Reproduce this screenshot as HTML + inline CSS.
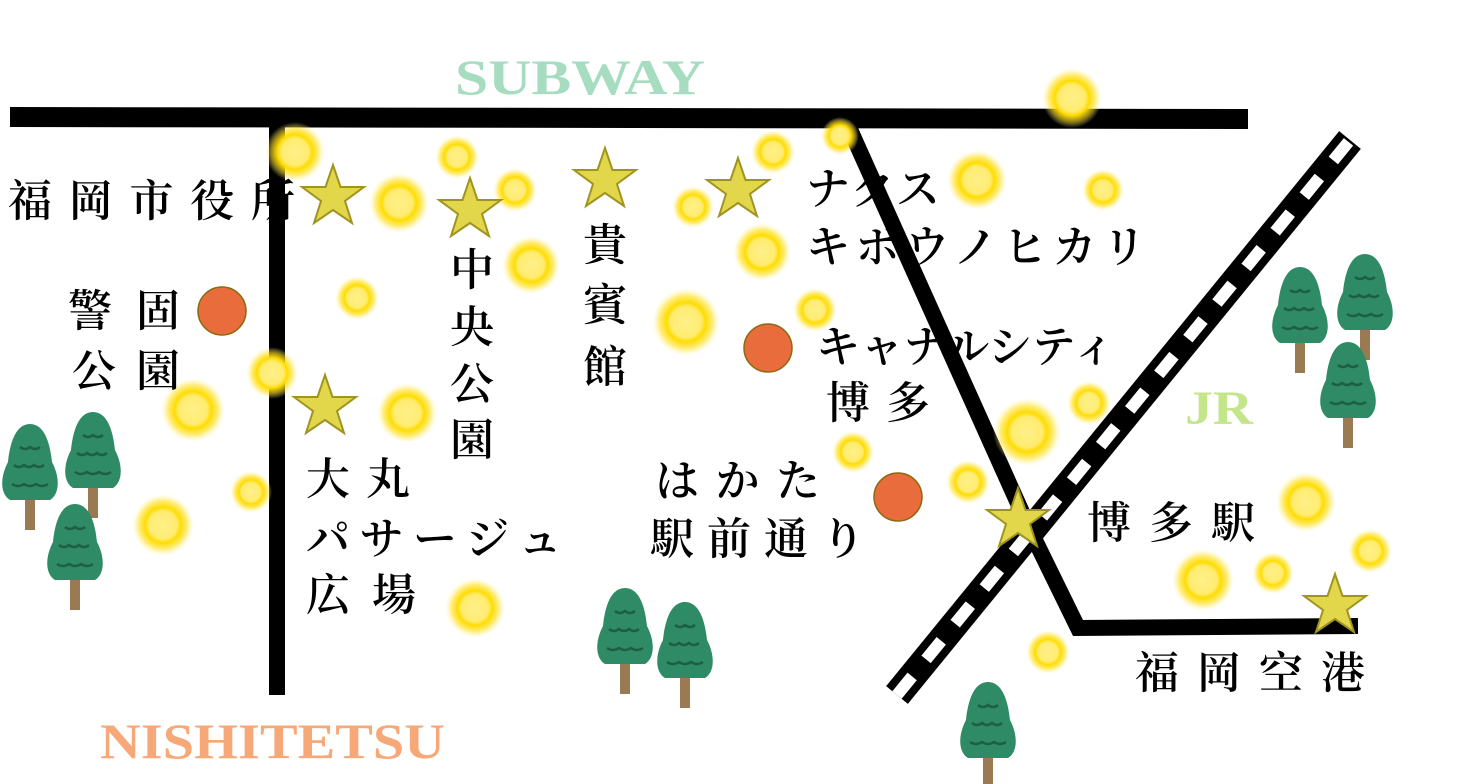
<!DOCTYPE html>
<html><head><meta charset="utf-8"><style>
html,body{margin:0;padding:0;background:#fff;width:1461px;height:784px;overflow:hidden}
svg text{font-family:"Liberation Serif","Noto Serif CJK SC","Noto Sans CJK JP",serif;fill:#000}
.j{font-size:44px;font-weight:600}
</style></head><body>
<svg width="1461" height="784" viewBox="0 0 1461 784" xmlns="http://www.w3.org/2000/svg">
<defs>
<radialGradient id="g">
<stop offset="0" stop-color="#fff08a"/>
<stop offset="0.45" stop-color="#ffec70"/>
<stop offset="0.58" stop-color="#ffdc00"/>
<stop offset="0.78" stop-color="#ffe020" stop-opacity="0.6"/>
<stop offset="1" stop-color="#fff3a0" stop-opacity="0"/>
</radialGradient>
<g id="tree">
<rect x="-5" y="60" width="10" height="38" fill="#9a7a52"/>
<path d="M0,-8 C14,-8 20,10 22,30 C30,45 30,62 20,68 L-20,68 C-30,62 -30,45 -22,30 C-20,10 -14,-8 0,-8Z" fill="#2f8a66"/>
<path d="M-10,15 q5,4 10,0 q5,4 10,0 M-16,33 q5,4 10,0 q5,4 10,0 q5,4 10,0 M-18,52 q6,4 12,0 q6,4 12,0 q6,4 12,0" stroke="#1e5e44" stroke-width="2.5" fill="none"/>
</g>
<polygon id="star" points="0,-32 7.5,-10 31,-10 12,4 19,26 0,13 -19,26 -12,4 -31,-10 -7.5,-10" fill="#e2d64a" stroke="#9f9420" stroke-width="2"/>
</defs>
<text x="455" y="94" font-size="50" font-weight="bold" textLength="250" lengthAdjust="spacingAndGlyphs" style="fill:#a6dcc0;font-family:'Liberation Serif',serif">SUBWAY</text>
<text x="100" y="758" font-size="50" font-weight="bold" textLength="345" lengthAdjust="spacingAndGlyphs" style="fill:#f7a878;font-family:'Liberation Serif',serif">NISHITETSU</text>
<text x="1185" y="424" font-size="48" font-weight="bold" textLength="68" lengthAdjust="spacingAndGlyphs" style="fill:#c4e68a;font-family:'Liberation Serif',serif">JR</text>
<path d="M10,117 L1248,119" stroke="#000" stroke-width="20"/>
<path d="M277,127 L277,695" stroke="#000" stroke-width="16"/>
<path d="M848,125 L1030,530 L1078,628 L1358,626" stroke="#000" stroke-width="16" fill="none"/>
<path d="M897,695 L1350,140" stroke="#000" stroke-width="28"/>
<path d="M897,695 L1350,140" stroke="#fff" stroke-width="12" stroke-dasharray="24 22"/>
<use href="#tree" x="30" y="432"/>
<use href="#tree" x="93" y="420"/>
<use href="#tree" x="75" y="512"/>
<use href="#tree" x="625" y="596"/>
<use href="#tree" x="685" y="610"/>
<use href="#tree" x="1300" y="275"/>
<use href="#tree" x="1365" y="262"/>
<use href="#tree" x="1348" y="350"/>
<use href="#tree" x="988" y="690"/>
<g fill="url(#g)">
<circle cx="295" cy="152" r="30"/><circle cx="457" cy="157" r="22"/><circle cx="399" cy="203" r="30"/>
<circle cx="515" cy="190" r="22"/><circle cx="531" cy="265" r="29"/><circle cx="357" cy="298" r="22"/>
<circle cx="686" cy="322" r="34"/><circle cx="773" cy="152" r="22"/><circle cx="840" cy="136" r="19"/>
<circle cx="1072" cy="98" r="30"/><circle cx="977" cy="180" r="30"/><circle cx="1103" cy="190" r="21"/>
<circle cx="693" cy="207" r="21"/><circle cx="762" cy="252" r="29"/><circle cx="815" cy="310" r="22"/>
<circle cx="272" cy="373" r="26"/><circle cx="193" cy="410" r="32"/><circle cx="407" cy="413" r="30"/>
<circle cx="251" cy="492" r="21"/><circle cx="163" cy="525" r="31"/><circle cx="475" cy="608" r="30"/>
<circle cx="853" cy="452" r="21"/><circle cx="968" cy="482" r="22"/><circle cx="1027" cy="432" r="34"/>
<circle cx="1089" cy="403" r="22"/><circle cx="1306" cy="502" r="30"/><circle cx="1370" cy="551" r="22"/>
<circle cx="1203" cy="580" r="31"/><circle cx="1273" cy="573" r="21"/><circle cx="1048" cy="652" r="22"/>
</g>
<g fill="#e86c3c" stroke="#8a6a10" stroke-width="1.5">
<circle cx="222" cy="311" r="24"/><circle cx="768" cy="348" r="24"/><circle cx="898" cy="497" r="24"/>
</g>
<use href="#star" x="333" y="197"/><use href="#star" x="470" y="210"/><use href="#star" x="605" y="180"/>
<use href="#star" x="738" y="190"/><use href="#star" x="325" y="407"/><use href="#star" x="1018" y="520"/>
<use href="#star" x="1335" y="606"/>
<text class="j" x="8" y="216" textLength="287">福岡市役所</text>
<text class="j" x="68" y="326" textLength="112">警固</text>
<text class="j" x="72" y="386" textLength="108">公園</text>
<text class="j" x="450" y="285">中</text><text class="j" x="450" y="342">央</text><text class="j" x="450" y="399">公</text><text class="j" x="450" y="455">園</text>
<text class="j" x="583" y="260">貴</text><text class="j" x="583" y="320">賓</text><text class="j" x="583" y="382">館</text>
<text class="j" x="806" y="204" textLength="134">ナクス</text>
<text class="j" x="806" y="262" textLength="340">キボウノヒカリ</text>
<text class="j" x="816" y="362" textLength="300">キャナルシティ</text>
<text class="j" x="826" y="418" textLength="104">博多</text>
<text class="j" x="306" y="494" textLength="104">大丸</text>
<text class="j" x="306" y="554" textLength="256">パサージュ</text>
<text class="j" x="306" y="610" textLength="110">広場</text>
<text class="j" x="655" y="496" textLength="165">はかた</text>
<text class="j" x="650" y="554" textLength="215">駅前通り</text>
<text class="j" x="1087" y="538" textLength="168">博多駅</text>
<text class="j" x="1135" y="688" textLength="230">福岡空港</text>
</svg>
</body></html>
